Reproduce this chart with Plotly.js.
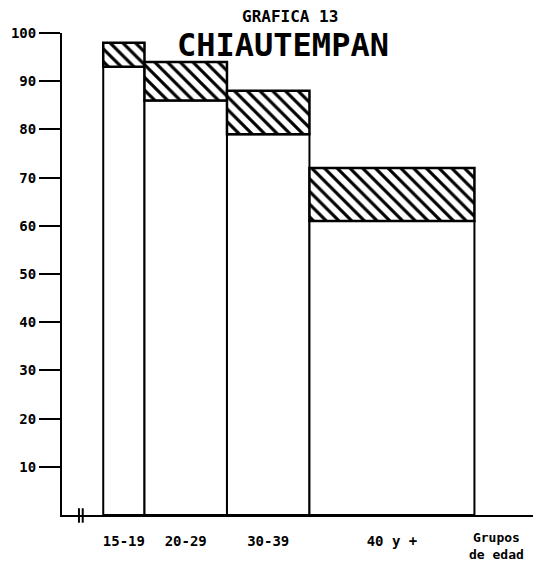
<!DOCTYPE html>
<html>
<head>
<meta charset="utf-8">
<script src="https://cdn.plot.ly/plotly-3.0.1.min.js"></script>
<style>html,body{margin:0;padding:0;background:#fff;}#chart{width:533px;height:570px;}</style>
</head>
<body>
<div id="chart"></div>
<script>
// Age groups (years) and percentages
var categories = ['15-19', '20-29', '30-39', '40 y +'];
var groupStart = [15, 20, 30, 40];
var groupEnd = [20, 30, 40, 60];
var whiteValues = [93, 86, 79, 61];
var totalValues = [98, 94, 88, 72];
var yTicks = [10, 20, 30, 40, 50, 60, 70, 80, 90, 100];

var centers = groupStart.map(function (s, i) { return (s + groupEnd[i]) / 2; });
var widths = groupStart.map(function (s, i) { return groupEnd[i] - s; });
var hatched = totalValues.map(function (t, i) { return t - whiteValues[i]; });

var FONT = 'DejaVu Sans Mono';

var traces = [
  {
    type: 'bar', x: centers, y: whiteValues, width: widths, base: 0,
    marker: { color: '#ffffff', line: { color: '#000', width: 2 } },
    hoverinfo: 'skip', showlegend: false
  },
  {
    type: 'bar', x: centers, y: hatched, width: widths, base: whiteValues,
    marker: {
      color: '#ffffff',
      line: { color: '#000', width: 2.5 },
      pattern: { shape: '\\', fgcolor: '#000', bgcolor: '#fff', size: 9, solidity: 0.35 }
    },
    hoverinfo: 'skip', showlegend: false
  }
];

var layout = {
  width: 533, height: 570,
  margin: { l: 62, r: 0, t: 33, b: 55 },
  paper_bgcolor: '#fff', plot_bgcolor: '#fff',
  barmode: 'overlay',
  font: { family: FONT, color: '#000' },
  xaxis: {
    range: [10, 67.1],
    tickvals: centers, ticktext: categories,
    ticks: '', ticklabelstandoff: 12,
    tickfont: { family: FONT, size: 14, weight: 'bold', color: '#000' },
    showgrid: false, zeroline: false,
    showline: true, linecolor: '#000', linewidth: 2,
    fixedrange: true
  },
  yaxis: {
    range: [0, 100],
    tickvals: yTicks,
    ticks: 'outside', ticklen: 21, tickwidth: 2, tickcolor: '#000',
    tickfont: { family: FONT, size: 14, weight: 'bold', color: '#000' },
    showgrid: false, zeroline: false,
    showline: true, linecolor: '#000', linewidth: 2,
    fixedrange: true
  },
  annotations: [
    { text: 'GRAFICA 13', xref: 'paper', yref: 'paper', x: (290 - 62) / 471, y: 1 + (33 - 17) / 482,
      showarrow: false, xanchor: 'center', yanchor: 'middle',
      font: { family: FONT, size: 16, weight: 'bold', color: '#000' } },
    { text: 'CHIAUTEMPAN', xref: 'paper', yref: 'paper', x: (283 - 62) / 471, y: 1 + (33 - 45) / 482,
      showarrow: false, xanchor: 'center', yanchor: 'middle',
      font: { family: FONT, size: 32, weight: 'bold', color: '#000' } },
    { text: 'Grupos<br>de edad', xref: 'paper', yref: 'paper', x: (496 - 62) / 471, y: -(546 - 515) / 482,
      showarrow: false, xanchor: 'center', yanchor: 'middle', align: 'center',
      font: { family: FONT, size: 13, weight: 'bold', color: '#000' } }
  ],
  shapes: [
    { type: 'line', xref: 'paper', yref: 'paper', x0: 0.036, x1: 0.036, y0: -0.016, y1: 0.014, line: { color: '#000', width: 2 } },
    { type: 'line', xref: 'paper', yref: 'paper', x0: 0.044, x1: 0.044, y0: -0.016, y1: 0.014, line: { color: '#000', width: 2 } }
  ]
};

Plotly.newPlot('chart', traces, layout, { displayModeBar: false, staticPlot: true });
</script>
</body>
</html>
